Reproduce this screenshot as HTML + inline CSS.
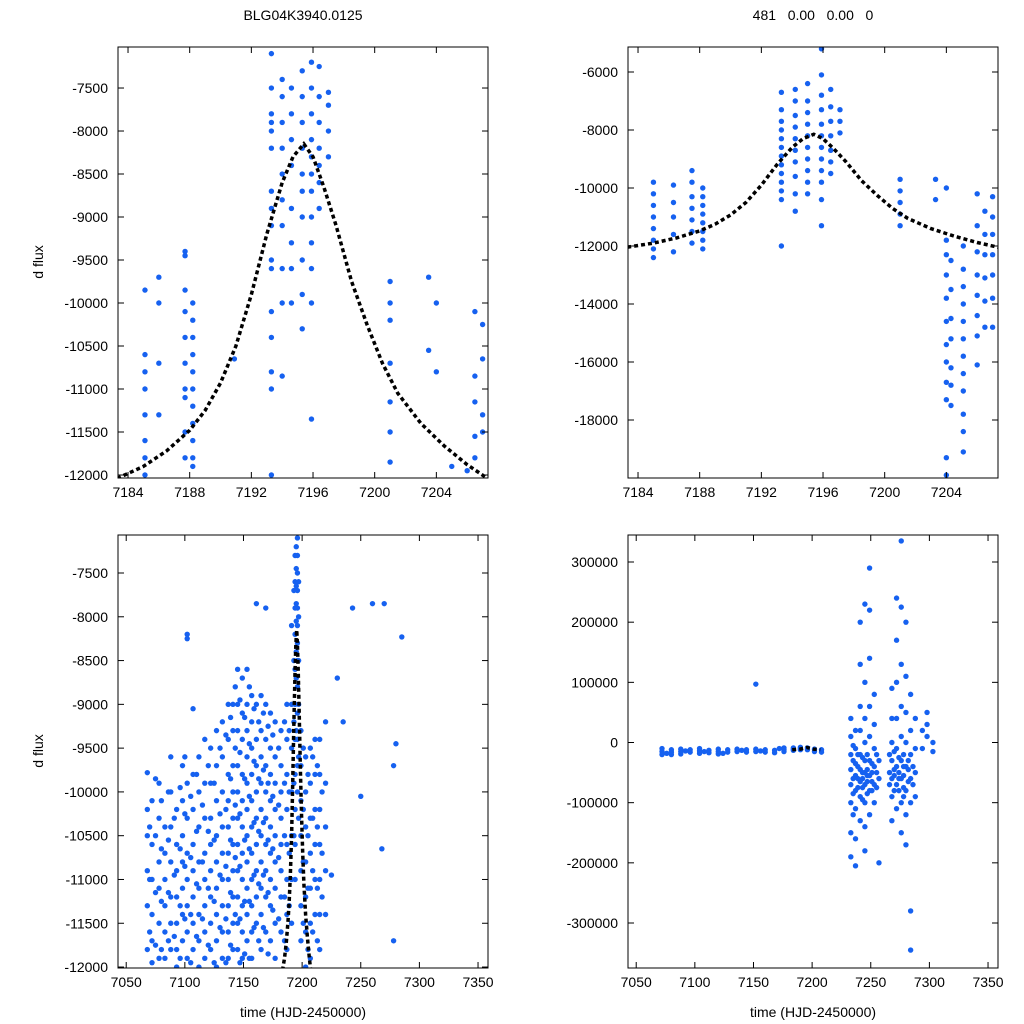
<!DOCTYPE html>
<html><head><meta charset="utf-8">
<style>
html,body{margin:0;padding:0;background:#fff;}
svg{display:block;font-family:"Liberation Sans",sans-serif;}
</style></head>
<body>
<svg id="chart" width="1024" height="1024" viewBox="0 0 1024 1024">
<text x="303" y="20" font-size="14" text-anchor="middle">BLG04K3940.0125</text>
<text x="813" y="20" font-size="14" text-anchor="middle" xml:space="preserve">481   0.00   0.00   0</text>
<text transform="translate(43,262) rotate(-90)" font-size="14" text-anchor="middle">d flux</text>
<text transform="translate(43,751) rotate(-90)" font-size="14" text-anchor="middle">d flux</text>
<text x="303" y="1017" font-size="14" text-anchor="middle">time (HJD-2450000)</text>
<text x="813" y="1017" font-size="14" text-anchor="middle">time (HJD-2450000)</text>
</svg>
<script>
// ---- model curve ----
const modelT=[7183.3,7185,7186.5,7188,7189,7190,7191,7192,7193,7194,7194.7,7195.4,7196,7196.7,7197.5,7198.5,7199.5,7200.5,7201.5,7203,7204.5,7206,7207.4];
const modelF=[-12040,-11900,-11720,-11480,-11250,-10930,-10500,-9900,-9200,-8600,-8300,-8150,-8300,-8650,-9100,-9750,-10250,-10700,-11050,-11400,-11660,-11880,-12050];
// ---- top-left data ----
const tlT=[7185.1,7186,7187.7,7188.2,7190.9,7193.3,7194,7194.6,7195.3,7195.9,7196.4,7197,7201,7203.5,7204,7205,7206,7206.5,7207];
const tlF=[[-9850,-10600,-10800,-11000,-11300,-11600,-11800,-12000],[-9700,-10000,-10700,-11300],[-9400,-9450,-9850,-10100,-10400,-10700,-11000,-11100,-11500,-11800],[-10000,-10200,-10400,-10600,-10800,-11000,-11200,-11400,-11600,-11800,-11900],[-10650],[-7100,-7500,-7800,-7900,-8000,-8200,-8700,-8900,-9100,-9500,-9600,-10100,-10400,-10800,-11000,-12000],[-7400,-7600,-7900,-8200,-8500,-8800,-9100,-9600,-10000,-10850],[-7500,-7800,-8100,-8400,-8900,-9300,-9600,-10000],[-7300,-7600,-7900,-8200,-8500,-8700,-9000,-9500,-9900,-10300],[-7200,-7500,-7800,-8100,-8300,-8500,-8700,-9000,-9300,-9600,-10000,-11350],[-7250,-7600,-7900,-8200,-8400,-8600,-8900],[-7550,-7700,-8000,-8300],[-9750,-10000,-10200,-10700,-11150,-11500,-11850],[-9700,-10550],[-10000,-10800],[-11900],[-11950],[-10100,-10850,-11150,-11550,-11800],[-10250,-10650,-11300,-11500]];
// ---- top-right data ----
const trT=[7185,7186.3,7187.5,7188.2,7193.3,7194.2,7195,7195.9,7196.5,7197.1,7201,7203.3,7204,7204.3,7205.1,7206,7206.5,7207];
const trF=[[-9800,-10200,-10600,-11000,-11400,-11800,-12100,-12400],[-9900,-10500,-11000,-11600,-12200],[-9400,-9800,-10300,-10700,-11100,-11500,-11900],[-10000,-10300,-10600,-10900,-11200,-11500,-11800,-12100],[-6700,-7300,-7700,-8000,-8300,-8600,-8900,-9200,-9500,-9800,-10100,-10400,-12000],[-6600,-7000,-7500,-7900,-8300,-8700,-9100,-9600,-10200,-10800],[-6400,-7000,-7400,-7800,-8200,-8600,-9000,-9400,-9800,-10200],[-5200,-6100,-6800,-7300,-7800,-8200,-8600,-9000,-9400,-9800,-10400,-11300],[-6600,-7200,-7700,-8200,-8700,-9100,-9500],[-7300,-7700,-8100],[-9700,-10100,-10500,-10900,-11300],[-9700,-10400],[-10000,-11800,-12300,-13000,-13800,-14600,-15400,-16000,-16700,-17300,-19300,-19900],[-12500,-13500,-14500,-15200,-16200,-16800,-17500],[-12000,-12800,-13400,-14000,-14600,-15200,-15800,-16400,-17000,-17800,-18400,-19100],[-10200,-11300,-12200,-13000,-13700,-14400,-15100,-16100],[-10800,-11600,-12300,-13100,-13900,-14800],[-10300,-11000,-11600,-12300,-13000,-13800,-14800]];
// ---- bottom-left data ----
const blT=[7068,7072,7078,7083,7088,7093,7098,7102,7107,7112,7117,7122,7127,7132,7137,7141,7145,7149,7153,7157,7161,7165,7169,7173,7177,7182,7187,7191,7194,7196,7199,7203,7207,7211,7215,7220];
const blF=[
[-9780,-10200,-10500,-10900,-11300,-11800],
[-10100,-10600,-11000,-11400,-11700,-11950],
[-9900,-10300,-10800,-11100,-11500,-11900],
[-10400,-10700,-11000,-11300,-11600,-11900],
[-9600,-10000,-10400,-10800,-11200,-11500,-11800],
[-10200,-10600,-10900,-11200,-11500,-11800,-12000],
[-9700,-10100,-10500,-10800,-11100,-11400,-11700],
[-8200,-8250,-9900,-10300,-10700,-11000,-11300,-11600,-11900],
[-9050,-9800,-10200,-10600,-10900,-11200,-11500,-11800],
[-9600,-10000,-10400,-10800,-11100,-11400,-11700,-12000],
[-9400,-9900,-10300,-10700,-11000,-11300,-11600,-11900],
[-9500,-9900,-10300,-10600,-10900,-11200,-11500,-11800],
[-9300,-9700,-10100,-10500,-10800,-11100,-11400,-11700,-12000],
[-9200,-9600,-10000,-10400,-10700,-11000,-11300,-11600,-11900],
[-9000,-9400,-9800,-10100,-10400,-10700,-11000,-11300,-11600,-11900],
[-9000,-9300,-9700,-10000,-10300,-10600,-10900,-11200,-11500,-11800],
[-8600,-9000,-9300,-9700,-10000,-10300,-10600,-10900,-11200,-11500,-11800],
[-8700,-9100,-9400,-9800,-10100,-10400,-10700,-11000,-11300,-11600,-11900],
[-8600,-9000,-9300,-9600,-9900,-10200,-10500,-10800,-11100,-11400,-11700],
[-8900,-9200,-9500,-9800,-10100,-10400,-10700,-11000,-11300,-11600,-11900],
[-7850,-9000,-9400,-9700,-10000,-10300,-10600,-10900,-11200,-11500],
[-8900,-9300,-9600,-9900,-10200,-10500,-10800,-11100,-11400,-11800],
[-7900,-9000,-9400,-9700,-10000,-10300,-10600,-10900,-11200,-11600],
[-9100,-9500,-9800,-10100,-10400,-10700,-11000,-11300,-11700],
[-9200,-9600,-9900,-10200,-10500,-10800,-11100,-11500,-11900],
[-9300,-9700,-10000,-10300,-10600,-10900,-11200,-11600],
[-9000,-9400,-9800,-10200,-10600,-11000,-11400,-11800],
[-8100,-9000,-9500,-10000,-10500,-11000,-11500],
[-7300,-7600,-7900,-8200,-8600,-9000,-9400,-9800,-10200,-10600,-11000],
[-7100,-7300,-7500,-7700,-7900,-8100,-8300,-8500,-8800,-9100,-9400,-9700,-10000],
[-9300,-9700,-10100,-10500,-10900,-11300,-11700],
[-9600,-10000,-10400,-10800,-11200,-11600,-12000],
[-9500,-9900,-10300,-10700,-11100,-11500,-11900],
[-9400,-9800,-10200,-10600,-11000,-11400],
[-9400,-9800,-10200,-10600,-11000,-11400,-11800],
[-9200,-9900,-10400,-10900,-11400]];
const blT2=[7070,7075,7080,7086,7091,7096,7100,7105,7110,7115,7120,7125,7130,7135,7139,7143,7147,7151,7155,7159,7163,7167,7171,7175,7180,7185,7189,7193,7195,7197,7201,7205,7209,7213,7217];
const blF2=[
[-10400,-11000,-11600],[-9850,-10500,-11150,-11750],[-10100,-10650,-11250,-11800],[-10000,-10550,-11150,-11700],[-10300,-10950,-11650],[-9950,-10650,-11300,-11900],[-9600,-10250,-10850,-11450],[-10050,-10750,-11400,-11950],[-9800,-10450,-11050,-11650],[-10150,-10800,-11450],[-9700,-10450,-11100,-11750],[-9900,-10550,-11250,-11950],[-9500,-10250,-10950,-11550],[-9350,-10200,-10850,-11450,-11950],[-9150,-9850,-10550,-11150,-11750],[-8800,-9500,-10150,-10750,-11400],[-8950,-9550,-10250,-10850,-11450,-11950],[-9150,-9850,-10550,-11250,-11850],[-8800,-9450,-10050,-10650,-11250,-11900],[-9050,-9650,-10350,-10950,-11550],[-9200,-9850,-10450,-11050,-11700],[-9100,-9750,-10350,-10950,-11550],[-9250,-9900,-10550,-11150,-11850],[-9350,-10050,-10650,-11350],[-9500,-10150,-10750,-11450],[-9200,-9900,-10500,-11200,-11700],[-9300,-10000,-10700,-11300],[-7700,-8500,-9200,-9900,-10500],[-7200,-7450,-7650,-7850,-8050,-8400,-8700,-9300],[-7600,-8000,-8500,-9000,-9600,-10300],[-9500,-10200,-10800,-11500],[-9800,-10500,-11100,-11800],[-9600,-10300,-10900,-11600],[-9700,-10400,-11100,-11700],[-10000,-10700,-11200]];
const blOutT=[7235,7243,7250,7260,7268,7270,7278,7280,7278,7285,7225,7230];
const blOutF=[-9200,-7900,-10050,-7850,-10650,-7850,-9700,-9450,-11700,-8230,-10950,-8700];
// ---- bottom-right data ----
const brT=[7072,7080,7088,7096,7104,7112,7120,7128,7136,7144,7152,7160,7168,7176,7184,7190,7196,7202,7208,7233,7237,7241,7245,7249,7253,7257,7268,7272,7276,7280,7284,7288,7298,7303];
const brF=[
[-10000,-15000,-20000],[-12000,-16000,-20000],[-11000,-15000,-19000],[-12000,-16000],[-10000,-14000,-18000],[-13000,-17000],[-11000,-15000,-19000],[-12000,-16000],[-11000,-15000],[-12000,-16000],[97000,-11000,-15000],[-12000,-16000],[-13000,-17000],[-9000,-12000,-15000],[-9000,-11000,-13000],[-8000,-10000,-12000],[-9000,-12000],[-11000,-15000],[-12000,-16000],
[40000,10000,-20000,-45000,-70000,-100000,-150000,-190000],
[20000,-10000,-35000,-55000,-80000,-110000,-160000,-205000],
[200000,130000,60000,20000,-20000,-45000,-65000,-90000,-130000],
[230000,100000,40000,0,-30000,-50000,-70000,-100000,-140000,-180000],
[350000,290000,220000,140000,60000,10000,-30000,-55000,-80000,-120000],
[80000,30000,-10000,-40000,-70000,-100000],
[-200000,-30000,-60000],
[90000,40000,0,-30000,-60000,-90000,-130000],
[240000,170000,100000,40000,-10000,-40000,-70000,-110000],
[335000,225000,130000,60000,10000,-30000,-60000,-100000,-150000],
[200000,110000,50000,0,-40000,-80000,-120000,-170000],
[-280000,-345000,80000,20000,-20000,-60000,-100000],
[40000,-10000,-50000,-90000],
[50000,30000,10000],
[0,-15000]];
const brT2=[7076,7092,7108,7124,7140,7156,7172,7235,7239,7243,7247,7251,7255,7266,7270,7274,7278,7282,7286,7294];
const brF2=[[-18000],[-14000],[-15000],[-18000],[-13000],[-14000],[-10000],
[-5000,-30000,-60000,-85000,-120000],[-20000,-40000,-60000,-75000],[-25000,-50000,-60000,-75000,-95000],[-20000,-45000,-55000,-65000,-85000],[-35000,-50000,-65000,-80000],[-20000,-50000,-75000],[-20000,-50000,-70000],[-15000,-45000,-55000,-80000],[-25000,-50000,-60000,-80000],[-20000,-40000,-55000,-75000,-90000],[-30000,-45000,-65000],[-40000,-70000],[20000,-10000]];
// ---- model in bottom-right ----
const brModelT=[7183,7190,7195.4,7201,7207];
const brModelF=[-12000,-10900,-8150,-11000,-12000];

const svg=document.getElementById('chart');
const NS='http://www.w3.org/2000/svg';
const BLUE='#1661f0';
function mk(tag,attrs,parent){const e=document.createElementNS(NS,tag);for(const k in attrs)e.setAttribute(k,attrs[k]);(parent||svg).appendChild(e);return e;}

function panel(name,box,xd,yd,xticks,yticks){
  const g=mk('g',{});
  
  
  const sx=v=>box.x+(v-xd[0])/(xd[1]-xd[0])*box.w;
  const sy=v=>box.y+box.h-(v-yd[0])/(yd[1]-yd[0])*box.h;
  const clip='c'+name;
  const cp=mk('clipPath',{id:clip},g);mk('rect',{x:box.x,y:box.y,width:box.w,height:box.h},cp);
  const plot=mk('g',{'clip-path':'url(#'+clip+')'},g);
  
  
  const frame=mk('rect',{x:box.x,y:box.y,width:box.w,height:box.h,fill:'none',stroke:'#000','stroke-width':1},g);
  
  
  xticks.forEach(t=>{const x=sx(t);
    mk('line',{x1:x,x2:x,y1:box.y+box.h,y2:box.y+box.h-6,stroke:'#000'},g);
    mk('line',{x1:x,x2:x,y1:box.y,y2:box.y+6,stroke:'#000'},g);
    const tx=mk('text',{x:x,y:box.y+box.h+19,'font-size':14,'text-anchor':'middle'},g);tx.textContent=t;
    
    });
  yticks.forEach(t=>{const y=sy(t);
    mk('line',{x1:box.x,x2:box.x+6,y1:y,y2:y,stroke:'#000'},g);
    mk('line',{x1:box.x+box.w,x2:box.x+box.w-6,y1:y,y2:y,stroke:'#000'},g);
    const tx=mk('text',{x:box.x-10,y:y+5,'font-size':14,'text-anchor':'end'},g);tx.textContent=t;
    
    });
  return {plot,sx,sy};
}
function dots(p,T,F,name){
  T.forEach((t,i)=>{const ys=Array.isArray(F[i])?F[i]:[F[i]];ys.forEach(f=>{
    const c=mk('circle',{cx:p.sx(t),cy:p.sy(f),r:2.7,fill:BLUE},p.plot);
    
    });});
}
function model(p,T,F){
  const d=T.map((t,i)=>(i?'L':'M')+p.sx(t).toFixed(1)+','+p.sy(F[i]).toFixed(1)).join('');
  const l=mk('path',{d:d,fill:'none',stroke:'#000','stroke-width':3.5,'stroke-dasharray':'4,3'},p.plot);
  
  
}
const tl=panel('top-left-panel',{x:118,y:47,w:370,h:431},[7183.35,7207.35],[-12035,-7023],[7184,7188,7192,7196,7200,7204],[-7500,-8000,-8500,-9000,-9500,-10000,-10500,-11000,-11500,-12000]);
dots(tl,tlT,tlF,'data-point');model(tl,modelT,modelF);
const tr=panel('top-right-panel',{x:628,y:47,w:370,h:431},[7183.35,7207.35],[-20000,-5138],[7184,7188,7192,7196,7200,7204],[-6000,-8000,-10000,-12000,-14000,-16000,-18000]);
dots(tr,trT,trF,'data-point');model(tr,modelT,modelF);
const bl=panel('bottom-left-panel',{x:118,y:535,w:370,h:433},[7043,7358.5],[-12011,-7066],[7050,7100,7150,7200,7250,7300,7350],[-7500,-8000,-8500,-9000,-9500,-10000,-10500,-11000,-11500,-12000]);
dots(bl,blT,blF,'data-point');dots(bl,blT2,blF2,'data-point');dots(bl,blOutT,blOutF,'data-point');model(bl,modelT,modelF);
const br=panel('bottom-right-panel',{x:628,y:535,w:370,h:433},[7043,7358.5],[-374800,344900],[7050,7100,7150,7200,7250,7300,7350],[300000,200000,100000,0,-100000,-200000,-300000]);
dots(br,brT,brF,'data-point');dots(br,brT2,brF2,'data-point');model(br,brModelT,brModelF);
</script>
</body></html>
